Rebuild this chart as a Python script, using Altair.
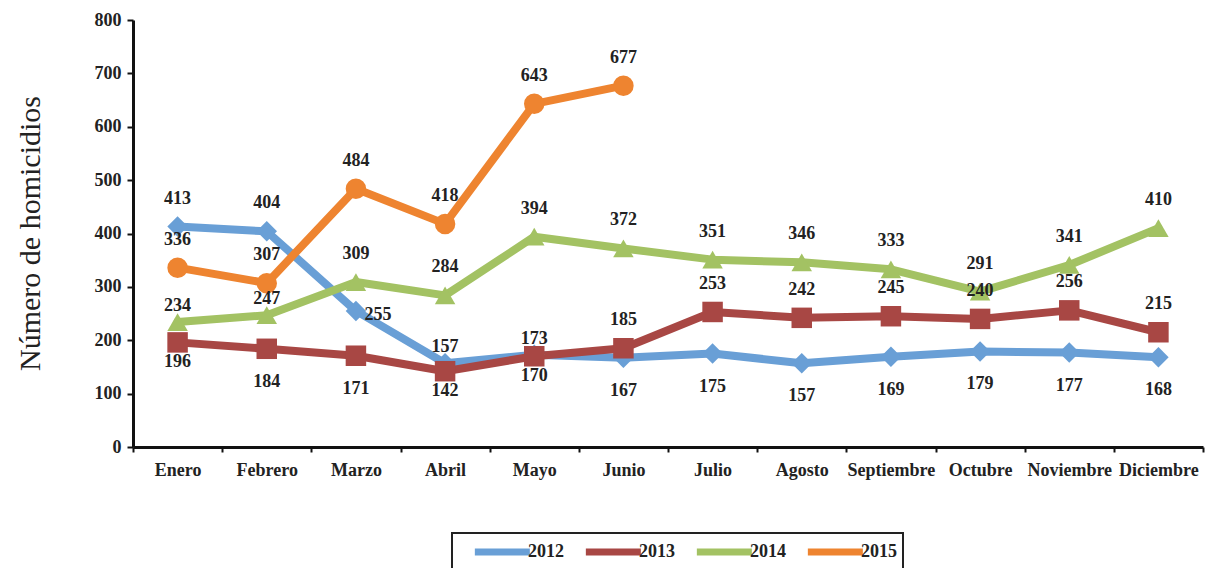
import altair as alt
import pandas as pd

months = ["Enero", "Febrero", "Marzo", "Abril", "Mayo", "Junio", "Julio",
          "Agosto", "Septiembre", "Octubre", "Noviembre", "Diciembre"]
years = ["2012", "2013", "2014", "2015"]
v2012 = [413, 404, 255, 157, 173, 167, 175, 157, 169, 179, 177, 168]
v2013 = [196, 184, 171, 142, 170, 185, 253, 242, 245, 240, 256, 215]
v2014 = [234, 247, 309, 284, 394, 372, 351, 346, 333, 291, 341, 410]
v2015 = [336, 307, 484, 418, 643, 677]
# label placement: a = above, n = just above, b = below, bn = just below, r = right
p2012 = ["a", "a", "r", "n", "n", "b", "b", "b", "b", "b", "b", "b"]
p2013 = ["bn", "b", "b", "bn", "bn", "a", "a", "a", "a", "a", "a", "a"]
p2014 = ["n", "n", "a", "a", "a", "a", "a", "a", "a", "a", "a", "a"]
p2015 = ["a", "a", "a", "a", "a", "a"]

colors = ["#699FD6", "#A84744", "#A3C263", "#EE8430"]
shapes = ["diamond", "square", "triangle-up", "circle"]

rows = []
for yr, vals, pos in zip(years, [v2012, v2013, v2014, v2015], [p2012, p2013, p2014, p2015]):
    for m, v, p in zip(months, vals, pos):
        rows.append({"Mes": m, "Año": yr, "Serie": yr, "Valor": v, "pos": p})
df = pd.DataFrame(rows)

FONT = "Liberation Serif"

x = alt.X("Mes:N", sort=months, title=None,
          scale=alt.Scale(paddingInner=0, paddingOuter=0),
          axis=alt.Axis(labelAngle=0, tickBand="extent", labelFont=FONT, labelFontSize=18,
                        labelFontWeight="bold", labelColor="#222", labelPadding=9,
                        domainColor="#111", domainWidth=3, tickColor="#111",
                        tickWidth=2, tickSize=5, grid=False))
y = alt.Y("Valor:Q", title="Número de homicidios",
          scale=alt.Scale(domain=[0, 800], nice=False),
          axis=alt.Axis(values=list(range(0, 801, 100)), labelFont=FONT, labelFontSize=18,
                        labelFontWeight="bold", labelColor="#222", labelPadding=6,
                        domainColor="#111", domainWidth=3, tickColor="#111",
                        tickWidth=2, tickSize=6, grid=False,
                        titleFont=FONT, titleFontSize=30, titleFontWeight="normal",
                        titleColor="#222", titleX=-103, titleY=213, titleAngle=-90,
                        titleBaseline="middle", titleAlign="center"))
color = alt.Color("Año:N", scale=alt.Scale(domain=years, range=colors),
                  legend=alt.Legend(title=None, orient="none", legendX=319, legendY=513,
                                    direction="horizontal", symbolType="M0.42,0L6.42,0",
                                    symbolStrokeWidth=7, symbolSize=336,
                                    labelFont=FONT, labelFontSize=18, labelFontWeight="bold",
                                    labelColor="#222", strokeColor="#222",
                                    padding=6, columnPadding=5, labelOffset=44))

base = alt.Chart(df)
lines = base.mark_line(strokeWidth=8, strokeCap="round", strokeJoin="round").encode(
    x=x, y=y, color=color)
points = base.mark_point(filled=True, size=420, opacity=1).encode(
    x=x, y=y,
    color=alt.Color("Serie:N", scale=alt.Scale(domain=years, range=colors), legend=None),
    shape=alt.Shape("Serie:N", scale=alt.Scale(domain=years, range=shapes), legend=None))

def labels(p, dx, dy):
    return base.transform_filter(alt.datum.pos == p).mark_text(
        font=FONT, fontSize=18, fontWeight="bold", color="#222", dx=dx, dy=dy,
        baseline="middle", align="center").encode(x=x, y=y, text="Valor:Q")

chart = alt.layer(
    lines, points,
    labels("a", 0, -28), labels("n", 0, -16), labels("b", 0, 33),
    labels("bn", 0, 20), labels("r", 22, 4),
).resolve_scale(color="independent").properties(
    width=1070, height=427,
    autosize=alt.AutoSizeParams(type="none"),
    padding={"left": 125, "top": 12, "right": 6, "bottom": 121},
    view=alt.ViewBackground(stroke="transparent", strokeWidth=0),
).configure(background="white").configure_view(
    stroke="transparent", strokeWidth=0).configure_legend(strokeWidth=2)

chart.save("out.html", embed_options={"renderer": "svg", "actions": False})
